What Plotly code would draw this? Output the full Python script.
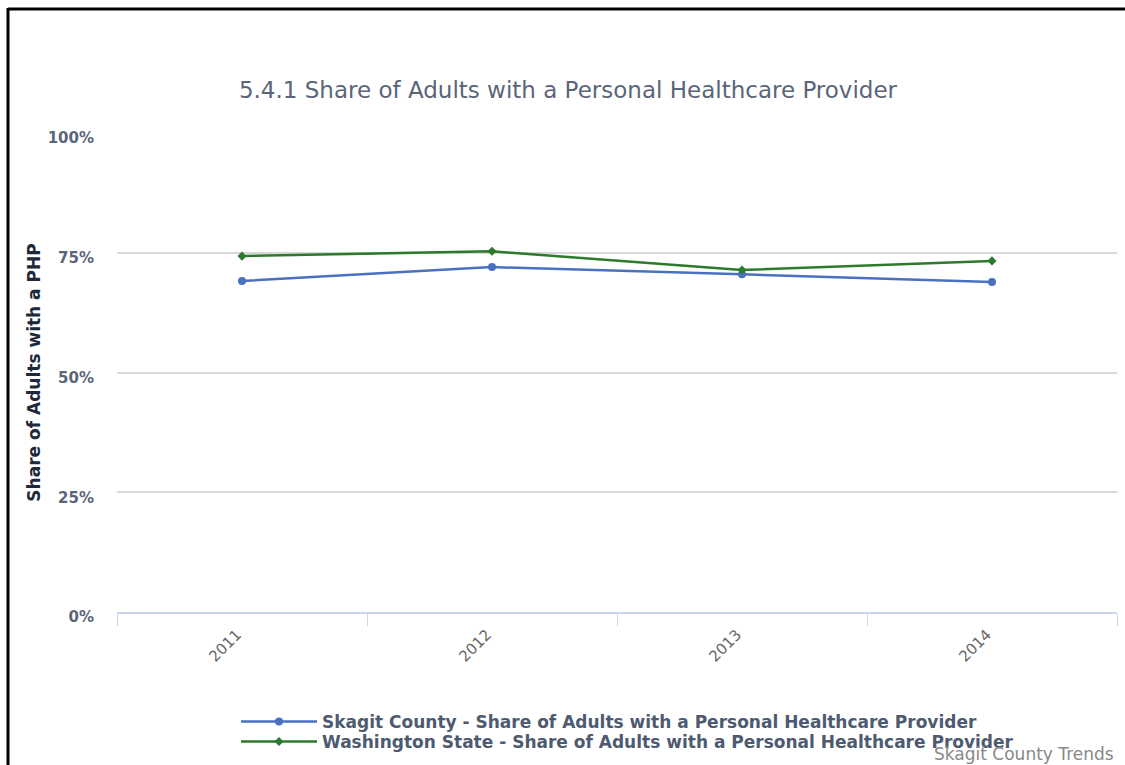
import plotly.graph_objects as go

years = ["2011", "2012", "2013", "2014"]
skagit = [69.1, 72.0, 70.5, 68.9]
washington = [74.3, 75.3, 71.4, 73.3]
y_ticks = [0, 25, 50, 75, 100]
y_tick_labels = ["0%", "25%", "50%", "75%", "100%"]

W, H = 1125, 765
L, R, T, B = 117, 8, 133, 153
pw, ph = W - L - R, H - T - B

def px_x(p):
    return (p - L) / pw

def px_y(p):
    return (H - B - p) / ph

fig = go.Figure()
fig.add_trace(go.Scatter(
    x=years, y=skagit, mode="lines+markers",
    name="Skagit County - Share of Adults with a Personal Healthcare Provider",
    line=dict(color="#4a70c0", width=2.5),
    marker=dict(symbol="circle", size=8, color="#4a70c0"),
    legend="legend",
))
fig.add_trace(go.Scatter(
    x=years, y=washington, mode="lines+markers",
    name="Washington State - Share of Adults with a Personal Healthcare Provider",
    line=dict(color="#2d7a2d", width=2.5),
    marker=dict(symbol="diamond", size=7, color="#2d7a2d"),
    legend="legend2",
))

legend_font = dict(size=17, color="#4d5a70", family="DejaVu Sans", weight="bold")

fig.update_layout(
    width=W, height=H,
    margin=dict(l=L, r=R, t=T, b=B, autoexpand=False),
    paper_bgcolor="white", plot_bgcolor="white",
    font=dict(family="DejaVu Sans", color="#5b6578"),
    title=dict(
        text="5.4.1 Share of Adults with a Personal Healthcare Provider",
        x=568 / W, xanchor="center", y=1 - 90 / H, yanchor="middle",
        font=dict(size=23, color="#5b6578", family="DejaVu Sans"),
    ),
    showlegend=True,
    legend=dict(
        orientation="v", x=px_x(236), xanchor="left", y=px_y(722), yanchor="middle",
        font=legend_font, bgcolor="rgba(0,0,0,0)", itemwidth=76,
    ),
    legend2=dict(
        orientation="v", x=px_x(236), xanchor="left", y=px_y(742), yanchor="middle",
        font=legend_font, bgcolor="rgba(0,0,0,0)", itemwidth=76,
    ),
    xaxis=dict(
        type="category", range=[-0.5, 3.5], automargin=False,
        showgrid=False, showline=True, linecolor="#ccd6eb", linewidth=2,
        ticks="outside", tickson="boundaries", ticklen=12, tickcolor="#ccd6eb",
        tickangle=-45, ticklabelstandoff=6, ticklabelshift=-5,
        tickfont=dict(size=15, color="#666666"),
    ),
    yaxis=dict(
        range=[0, 100], tickvals=y_ticks, ticktext=y_tick_labels, automargin=False,
        showgrid=True, gridcolor="#d8d8d8", gridwidth=2, zeroline=False,
        showline=False, ticks="", ticklabelstandoff=22, ticklabelshift=5,
        tickfont=dict(size=15, color="#5b6578", family="DejaVu Sans", weight="bold"),
        title=dict(text="Share of Adults with a PHP", standoff=2,
                   font=dict(size=17, color="#1e2a3a", family="DejaVu Sans", weight="bold")),
    ),
    annotations=[dict(
        text="Skagit County Trends", xref="paper", yref="paper",
        x=px_x(1116), y=px_y(754), xanchor="right", yanchor="middle",
        showarrow=False, font=dict(size=17, color="#888888", family="DejaVu Sans"),
    )],
    shapes=[
        dict(type="line", xref="paper", yref="paper",
             x0=px_x(8), x1=px_x(1125), y0=px_y(9), y1=px_y(9),
             line=dict(color="black", width=3)),
        dict(type="line", xref="paper", yref="paper",
             x0=px_x(8), x1=px_x(8), y0=px_y(8), y1=px_y(765),
             line=dict(color="black", width=3)),
    ],
)

fig.write_html("out.html")
